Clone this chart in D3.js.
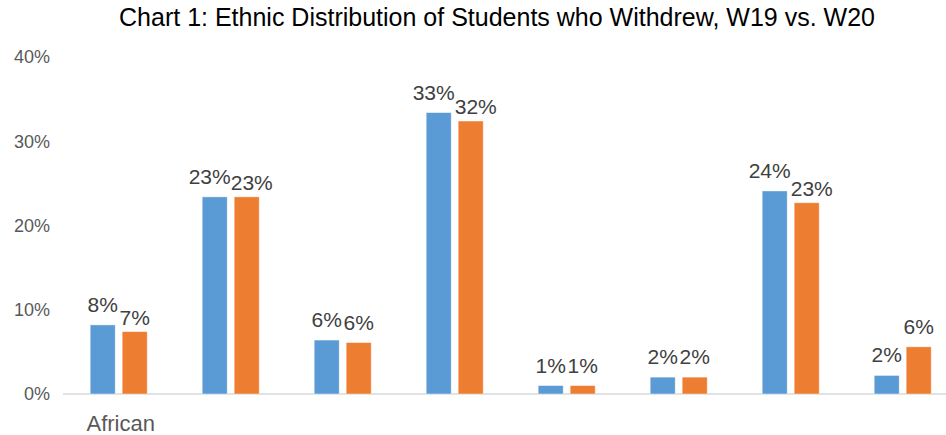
<!DOCTYPE html>
<html>
<head>
<meta charset="utf-8">
<script src="https://cdn.jsdelivr.net/npm/d3@7"></script>
<style>
  html, body { margin: 0; padding: 0; background: #fff; }
  svg { display: block; font-family: "Liberation Sans", Arial, sans-serif; }
</style>
</head>
<body>
<div id="chart"></div>
<script>
// Data
const categories = ["African", "Cat 2", "Cat 3", "Cat 4", "Cat 5", "Cat 6", "Cat 7", "Cat 8"];
const tickLabels = ["African", "", "", "", "", "", "", ""];
const seriesNames = ["W19", "W20"];
const w19 = [0.082, 0.234, 0.064, 0.334, 0.010, 0.020, 0.241, 0.022];
const w20 = [0.074, 0.234, 0.061, 0.324, 0.010, 0.020, 0.227, 0.056];
const yTicks = [0, 0.1, 0.2, 0.3, 0.4];
const colors = ["#5B9BD5", "#ED7D31"];

const width = 946, height = 435;

const svg = d3.select("#chart")
    .append("svg")
    .attr("width", width)
    .attr("height", height);

// Title
svg.append("text")
    .attr("x", 497)
    .attr("y", 26)
    .attr("text-anchor", "middle")
    .style("font-size", "25px")
    .style("fill", "#000")
    .text("Chart 1: Ethnic Distribution of Students who Withdrew, W19 vs. W20");

// Scales
const x0 = d3.scaleBand()
    .domain(categories)
    .range([62.7, 62.7 + 112 * categories.length]);

const x1 = d3.scaleBand()
    .domain(seriesNames)
    .range([0, x0.bandwidth()])
    .paddingInner(7 / 32)
    .paddingOuter(0.86);

const y = d3.scaleLinear()
    .domain([0, 0.4])
    .range([394, 57]);

// Y axis labels (no line, no ticks)
const yAxis = svg.append("g")
    .attr("transform", "translate(50,0)")
    .call(d3.axisLeft(y).tickValues(yTicks).tickFormat(d3.format(".0%")).tickSize(0).tickPadding(0));
yAxis.select(".domain").remove();
yAxis.selectAll("text")
    .style("font-size", "18px")
    .style("fill", "#595959")
    .style("font-family", "'Liberation Sans', Arial, sans-serif");

// Baseline
svg.append("line")
    .attr("x1", 63)
    .attr("x2", width)
    .attr("y1", y(0))
    .attr("y2", y(0))
    .attr("stroke", "#d9d9d9")
    .attr("stroke-width", 1.5);

// Bars
const rows = categories.map((c, i) => ({ cat: c, values: [w19[i], w20[i]] }));

const groups = svg.append("g")
    .selectAll("g")
    .data(rows)
    .join("g")
    .attr("transform", d => `translate(${x0(d.cat)},0)`);

groups.selectAll("rect")
    .data(d => d.values.map((v, k) => ({ key: seriesNames[k], k, v })))
    .join("rect")
    .attr("x", d => x1(d.key))
    .attr("y", d => y(d.v))
    .attr("width", x1.bandwidth())
    .attr("height", d => y(0) - y(d.v))
    .attr("fill", d => colors[d.k])
    .attr("stroke", "#fff")
    .attr("stroke-opacity", 0.5)
    .attr("stroke-width", 0.8);

// Data labels, with a simple overlap nudge like Excel does
const fmt = d3.format(".0%");
groups.each(function(d) {
    const g = d3.select(this);
    const labels = d.values.map((v, k) => {
        const t = g.append("text")
            .attr("text-anchor", "middle")
            .style("font-size", "21px")
            .style("fill", "#404040")
            .text(fmt(v));
        return { t, v, k, cx: x1(seriesNames[k]) + x1.bandwidth() / 2, y: y(v) - 13, w: t.node().getComputedTextLength() };
    });
    const a = labels[0], b = labels[1];
    const overlap = (a.w + b.w) / 2 - (b.cx - a.cx);
    const dy = b.y - a.y;
    if ((overlap > 0 && Math.abs(dy) < 16) || (overlap > -4 && dy > 4 && dy < 16)) {
        b.y = y(b.v) - 7;
        if (overlap > 0) {
            a.cx -= overlap / 2;
            b.cx += overlap / 2;
        }
    }
    labels.forEach(l => l.t.attr("x", l.cx).attr("y", l.y));
});

// Category labels
svg.append("g")
    .selectAll("text")
    .data(categories)
    .join("text")
    .attr("x", (d) => x0(d) + x0.bandwidth() / 2 + 2)
    .attr("y", 431)
    .attr("text-anchor", "middle")
    .style("font-size", "22px")
    .style("fill", "#595959")
    .text((d, i) => tickLabels[i]);
</script>
</body>
</html>
